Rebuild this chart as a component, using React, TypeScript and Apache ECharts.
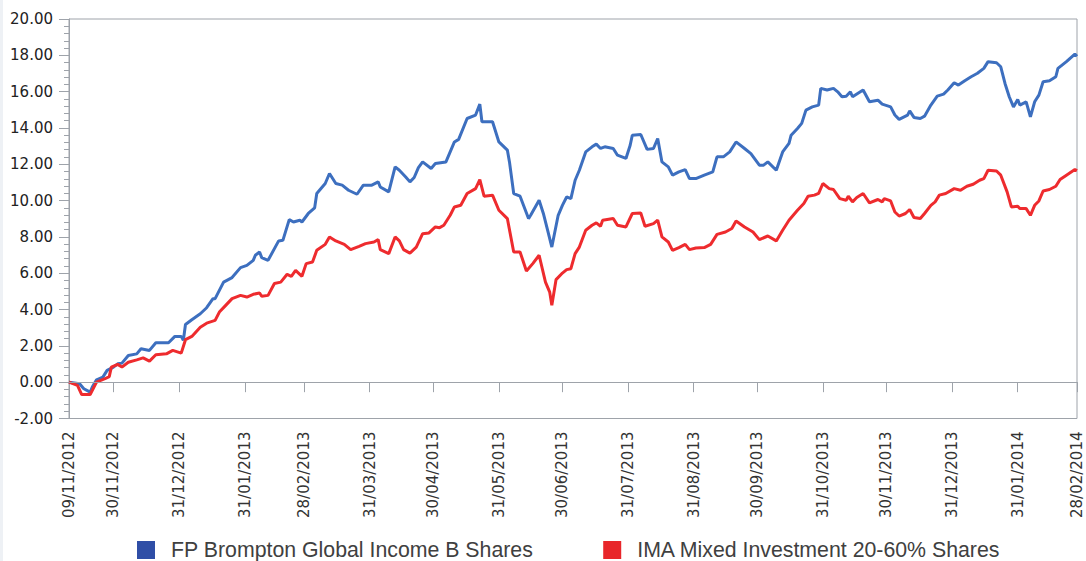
import React, { useEffect, useRef } from "react";
import * as echarts from "echarts";

const seriesNames = ["FP Brompton Global Income B Shares", "IMA Mixed Investment 20-60% Shares"];
const startDate = [2012, 11, 9];
const endDate = [2014, 2, 28];
const tickLabels = [
  "09/11/2012", "30/11/2012", "31/12/2012", "31/01/2013", "28/02/2013", "31/03/2013",
  "30/04/2013", "31/05/2013", "30/06/2013", "31/07/2013", "31/08/2013", "30/09/2013",
  "31/10/2013", "30/11/2013", "31/12/2013", "31/01/2014", "28/02/2014",
];
const yTicks = [-2, 0, 2, 4, 6, 8, 10, 12, 14, 16, 18, 20];

// days since 09/11/2012
const blueDays = [
  0, 5, 7, 10, 11, 13, 16, 18, 21, 23, 25, 28, 32, 34, 38, 41, 47, 50, 53, 54, 55, 58, 62, 65, 68, 69,
  73, 77, 81, 84, 87, 88, 90, 91, 94, 99, 101, 104, 106, 109, 110, 113, 116, 117, 121, 123, 126, 129,
  132, 136, 139, 143, 146, 147, 151, 154, 156, 159, 161, 163, 165, 167, 171, 173, 178, 180, 182, 184,
  188, 192, 194, 195, 200, 203, 207, 208, 210, 213, 217, 218, 222, 224, 226, 228, 231, 233, 235, 237,
  239, 241, 244, 247, 249, 251, 253, 257, 259, 263, 265, 266, 270, 273, 276, 278, 280, 283, 285, 288,
  291, 293, 296, 300, 304, 306, 309, 312, 315, 319, 322, 326, 328, 330, 334, 337, 340, 341, 344, 346,
  348, 351, 354, 355, 358, 361, 363, 365, 367, 369, 370, 375, 378, 382, 384, 388, 390, 392, 396, 397,
  399, 402, 404, 407, 410, 413, 415, 418, 420, 423, 426, 429, 432, 434, 438, 440, 442, 444, 446, 448,
  449, 452, 454, 456, 458, 460, 463, 466, 467, 471, 475, 476,
];
const blueValues = [
  0, -0.09, -0.36, -0.55, -0.27, 0.13, 0.28, 0.65, 0.83, 1.01, 1.05, 1.47, 1.56, 1.84, 1.75, 2.17, 2.17,
  2.52, 2.52, 2.3, 3.18, 3.44, 3.77, 4.1, 4.6, 4.6, 5.51, 5.76, 6.31, 6.43, 6.71, 6.99, 7.17, 6.86, 6.71,
  7.78, 7.81, 8.95, 8.82, 8.92, 8.82, 9.29, 9.6, 10.39, 10.94, 11.49, 10.94, 10.85, 10.57, 10.35, 10.85,
  10.85, 11.03, 10.75, 10.48, 11.86, 11.67, 11.3, 11.03, 11.27, 11.82, 12.13, 11.77, 12.04, 12.13, 12.68,
  13.23, 13.37, 14.52, 14.71, 15.31, 14.34, 14.34, 13.23, 12.78, 12.13, 10.39, 10.24, 9.01, 9.19, 10.02,
  9.29, 8.37, 7.44, 9.19, 9.74, 10.2, 10.11, 11.12, 11.67, 12.68, 12.96, 13.11, 12.87, 12.96, 12.87, 12.5,
  12.32, 13.05, 13.6, 13.64, 12.82, 12.87, 13.42, 12.13, 11.86, 11.4, 11.58, 11.71, 11.21, 11.21, 11.4,
  11.58, 12.41, 12.41, 12.68, 13.23, 12.87, 12.59, 11.95, 11.95, 12.13, 11.67, 12.68, 13.15, 13.6, 13.97,
  14.25, 14.98, 15.16, 15.26, 16.18, 16.09, 16.18, 15.99, 15.72, 15.75, 15.99, 15.72, 16.09, 15.44, 15.53,
  15.31, 15.16, 14.71, 14.47, 14.71, 14.94, 14.58, 14.52, 14.65, 15.26, 15.75, 15.86, 16.09, 16.49, 16.36,
  16.6, 16.82, 17.01, 17.28, 17.65, 17.59, 17.37, 16.45, 15.72, 15.16, 15.57, 15.26, 15.44, 14.61, 15.44,
  15.81, 16.54, 16.6, 16.82, 17.28, 17.65, 18.07, 17.95,
];
const redDays = [
  0, 4, 6, 10, 13, 17, 19, 20, 23, 25, 28, 32, 35, 38, 41, 46, 49, 53, 55, 58, 62, 65, 69, 71, 74, 77,
  81, 84, 87, 90, 91, 94, 97, 100, 103, 105, 107, 110, 112, 115, 117, 121, 123, 126, 130, 133, 137, 140,
  144, 146, 147, 151, 154, 156, 158, 161, 164, 167, 170, 173, 175, 177, 180, 182, 185, 188, 192, 194,
  196, 200, 203, 207, 210, 213, 216, 219, 222, 225, 227, 228, 230, 233, 235, 237, 239, 241, 244, 247,
  249, 251, 252, 257, 259, 263, 266, 270, 272, 276, 278, 280, 283, 285, 288, 291, 293, 296, 300, 303,
  306, 310, 313, 315, 319, 323, 326, 330, 334, 337, 340, 344, 347, 349, 352, 354, 356, 359, 361, 364,
  367, 368, 370, 372, 375, 378, 382, 384, 385, 388, 390, 392, 395, 397, 399, 402, 404, 407, 409, 411,
  414, 418, 421, 424, 427, 430, 432, 434, 438, 440, 443, 445, 448, 449, 452, 454, 456, 458, 460, 463,
  466, 468, 471, 475, 476,
];
const redValues = [
  0, -0.18, -0.68, -0.68, 0, 0.19, 0.31, 0.83, 0.98, 0.83, 1.1, 1.23, 1.34, 1.16, 1.51, 1.56, 1.75, 1.6,
  2.34, 2.52, 3.03, 3.25, 3.4, 3.86, 4.23, 4.6, 4.78, 4.69, 4.84, 4.91, 4.73, 4.78, 5.43, 5.51, 5.94, 5.83,
  6.16, 5.83, 6.53, 6.62, 7.26, 7.59, 8.0, 7.78, 7.59, 7.3, 7.48, 7.63, 7.72, 7.85, 7.3, 7.08, 8.0, 7.78,
  7.3, 7.11, 7.44, 8.18, 8.22, 8.55, 8.51, 8.64, 9.19, 9.65, 9.74, 10.39, 10.66, 11.16, 10.24, 10.3, 9.47,
  9.01, 7.17, 7.17, 6.12, 6.53, 6.99, 5.51, 4.96, 4.23, 5.65, 6.01, 6.2, 6.25, 7.08, 7.44, 8.37, 8.64, 8.77,
  8.59, 8.92, 9.01, 8.64, 8.55, 9.29, 9.32, 8.59, 8.73, 8.92, 8.0, 7.72, 7.26, 7.41, 7.59, 7.3, 7.39, 7.41,
  7.59, 8.14, 8.27, 8.46, 8.88, 8.55, 8.27, 7.85, 8.05, 7.78, 8.37, 8.92, 9.47, 9.84, 10.24, 10.3, 10.4,
  10.94, 10.66, 10.61, 10.11, 10.02, 10.24, 9.93, 10.17, 10.39, 9.87, 10.06, 9.93, 10.11, 9.98, 9.37, 9.15,
  9.29, 9.51, 9.07, 9.01, 9.29, 9.74, 9.93, 10.3, 10.39, 10.66, 10.57, 10.79, 10.9, 11.12, 11.21, 11.67,
  11.63, 11.4, 10.48, 9.65, 9.69, 9.56, 9.56, 9.19, 9.74, 9.98, 10.53, 10.61, 10.79, 11.16, 11.4, 11.71,
  11.65,
];

const lineColors = ["#3d6fbf", "#ee2b2e"];
const legendColors = ["#2f4ea6", "#e8262a"];

function buildCategories(): string[] {
  const out: string[] = [];
  const s = Date.UTC(startDate[0], startDate[1] - 1, startDate[2]);
  const e = Date.UTC(endDate[0], endDate[1] - 1, endDate[2]);
  for (let t = s; t <= e; t += 86400000) {
    const d = new Date(t);
    const dd = String(d.getUTCDate()).padStart(2, "0");
    const mm = String(d.getUTCMonth() + 1).padStart(2, "0");
    out.push(`${dd}/${mm}/${d.getUTCFullYear()}`);
  }
  return out;
}

export default function App() {
  const ref = useRef<HTMLDivElement>(null);
  useEffect(() => {
    if (!ref.current) return;
    const chart = echarts.init(ref.current, undefined, { renderer: "svg" });
    const categories = buildCategories();
    const labelSet = new Set(tickLabels);
    const showIdx = (i: number) => labelSet.has(categories[i]);
    const blueData = blueDays.map((d, i) => [d, blueValues[i]]);
    const redData = redDays.map((d, i) => [d, redValues[i]]);
    const axisGray = "#9ea3aa";
    chart.setOption({
      animation: false,
      backgroundColor: "#ffffff",
      graphic: [
        { type: "rect", left: 0, top: 0, shape: { x: 0, y: 0, width: 3, height: 561 }, style: { fill: "#eef1f5" }, silent: true },
      ],
      grid: {
        left: 69,
        right: 9,
        top: 19,
        bottom: 142.5,
        show: true,
        borderColor: axisGray,
        borderWidth: 1,
        backgroundColor: "transparent",
      },
      legend: {
        left: 137,
        top: 538,
        padding: 0,
        itemWidth: 18,
        itemHeight: 18,
        itemGap: 70,
        icon: "rect",
        textStyle: {
          fontFamily: "Liberation Sans, Arial, sans-serif",
          fontSize: 21.3,
          lineHeight: 24,
          color: "#404040",
          padding: [0, 0, 0, 11],
        },
        data: seriesNames.map((n, i) => ({ name: n, itemStyle: { color: legendColors[i] } })),
      },
      xAxis: {
        type: "category",
        data: categories,
        boundaryGap: false,
        axisLine: { show: true, lineStyle: { color: axisGray, width: 1 } },
        axisTick: { show: true, length: 10, interval: (i: number) => showIdx(i), lineStyle: { color: axisGray } },
        axisLabel: {
          interval: (i: number) => showIdx(i),
          rotate: 90,
          margin: 13,
          fontFamily: "DejaVu Sans, sans-serif",
          fontSize: 15,
          color: "#333333",
        },
        splitLine: { show: false },
      },
      yAxis: {
        type: "value",
        min: yTicks[0],
        max: yTicks[yTicks.length - 1],
        interval: 2,
        axisLine: { show: true, lineStyle: { color: axisGray, width: 1 } },
        axisTick: { show: true, length: 10, lineStyle: { color: axisGray } },
        minorTick: { show: true, splitNumber: 5, length: 5, lineStyle: { color: axisGray } },
        axisLabel: {
          margin: 16,
          fontFamily: "DejaVu Sans, sans-serif",
          fontSize: 15,
          color: "#222222",
          formatter: (v: number) => v.toFixed(2),
        },
        splitLine: { show: false },
      },
      series: [
        {
          name: seriesNames[0],
          type: "line",
          data: blueData,
          symbol: "none",
          lineStyle: { color: lineColors[0], width: 3 },
          itemStyle: { color: lineColors[0] },
          z: 3,
          markLine: {
            silent: true,
            symbol: "none",
            label: { show: false },
            lineStyle: { color: axisGray, width: 1, type: "solid" },
            data: [{ yAxis: 0 }],
          },
        },
        {
          name: seriesNames[1],
          type: "line",
          data: redData,
          symbol: "none",
          lineStyle: { color: lineColors[1], width: 3 },
          itemStyle: { color: lineColors[1] },
          z: 4,
        },
      ],
    });
    return () => chart.dispose();
  }, []);
  return (
    <div
      ref={ref}
      style={{ position: "fixed", left: 0, top: 0, width: 1086, height: 561, background: "#fff" }}
    />
  );
}
